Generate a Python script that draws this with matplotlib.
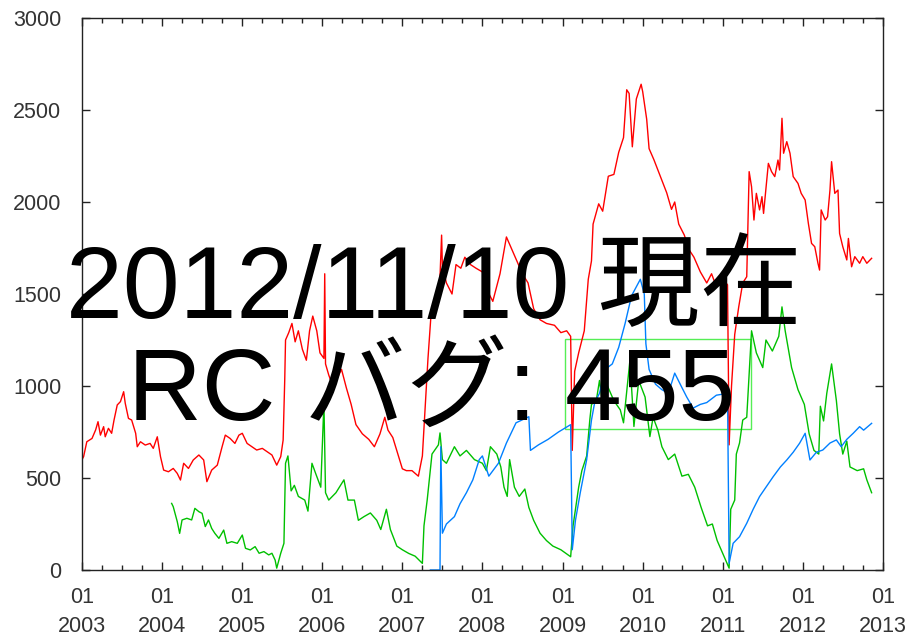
import matplotlib
matplotlib.use("Agg")

import matplotlib.pyplot as plt
import matplotlib.dates as mdates
from matplotlib.patches import Rectangle
from datetime import datetime, timedelta

# values (decimal year, count)
red_x = [2003.00, 2003.02, 2003.06, 2003.125, 2003.17, 2003.20, 2003.23, 2003.27, 2003.29, 2003.33,
         2003.37, 2003.40, 2003.44, 2003.48, 2003.52, 2003.54, 2003.58, 2003.62, 2003.67, 2003.69,
         2003.73, 2003.79, 2003.85, 2003.89, 2003.94, 2003.98, 2004.02, 2004.08, 2004.14, 2004.19,
         2004.23, 2004.27, 2004.33, 2004.39, 2004.46, 2004.52, 2004.56, 2004.62, 2004.69, 2004.75,
         2004.79, 2004.85, 2004.91, 2004.96, 2005.00, 2005.06, 2005.12, 2005.18, 2005.25, 2005.31,
         2005.37, 2005.43, 2005.48, 2005.51, 2005.53, 2005.54, 2005.58, 2005.62, 2005.66, 2005.70,
         2005.75, 2005.80, 2005.84, 2005.88, 2005.93, 2005.97, 2006.02, 2006.03, 2006.04, 2006.08,
         2006.13, 2006.18, 2006.24, 2006.30, 2006.36, 2006.42, 2006.50, 2006.58, 2006.65, 2006.72,
         2006.78, 2006.82, 2006.88, 2006.95, 2007.00, 2007.05, 2007.12, 2007.20, 2007.25, 2007.28,
         2007.32, 2007.36, 2007.40, 2007.46, 2007.49, 2007.50, 2007.55, 2007.62, 2007.67, 2007.73,
         2007.78, 2007.85, 2007.92, 2008.00, 2008.06, 2008.13, 2008.22, 2008.30, 2008.36, 2008.42,
         2008.50, 2008.57, 2008.64, 2008.72, 2008.80, 2008.90, 2008.98, 2009.05, 2009.10, 2009.12,
         2009.15, 2009.20, 2009.27, 2009.32, 2009.36, 2009.38, 2009.45, 2009.50, 2009.57, 2009.64,
         2009.70, 2009.76, 2009.80, 2009.83, 2009.87, 2009.92, 2009.98, 2010.00, 2010.05, 2010.08,
         2010.14, 2010.22, 2010.30, 2010.36, 2010.40, 2010.45, 2010.52, 2010.58, 2010.64, 2010.72,
         2010.80, 2010.86, 2010.92, 2010.98, 2011.06, 2011.08, 2011.11, 2011.15, 2011.20, 2011.25,
         2011.30, 2011.33, 2011.36, 2011.39, 2011.42, 2011.46, 2011.49, 2011.51, 2011.55, 2011.57,
         2011.61, 2011.65, 2011.69, 2011.71, 2011.74, 2011.76, 2011.80, 2011.84, 2011.88, 2011.94,
         2011.98, 2012.03, 2012.07, 2012.11, 2012.15, 2012.19, 2012.21, 2012.23, 2012.28, 2012.31,
         2012.34, 2012.36, 2012.40, 2012.44, 2012.46, 2012.50, 2012.55, 2012.57, 2012.61, 2012.65,
         2012.71, 2012.75, 2012.80, 2012.86]
red_y = [600, 616, 697, 715, 761, 806, 733, 779, 724, 770,
         743, 815, 897, 915, 969, 906, 824, 815, 743, 670,
         697, 679, 688, 661, 724, 616, 543, 534, 552, 525,
         489, 580, 552, 598, 625, 598, 480, 543, 570, 670,
         733, 715, 688, 733, 743, 688, 670, 652, 661, 643,
         625, 570, 616, 706, 1033, 1250, 1290, 1340, 1240, 1300,
         1200, 1140, 1300, 1380, 1300, 1180, 1150, 1610, 1120, 1060,
         1000, 1040, 1090, 990, 900, 790, 740, 710, 670, 740,
         830, 760, 720, 620, 550, 540, 540, 510, 620, 850,
         1150, 1400, 1470, 1480, 1820, 1650, 1560, 1500, 1660, 1640,
         1700, 1660, 1640, 1620, 1520, 1460, 1610, 1810, 1750, 1690,
         1610, 1560, 1420, 1360, 1340, 1330, 1290, 1300, 1270, 650,
         1080, 1180, 1300, 1580, 1680, 1880, 1990, 1950, 2140, 2150,
         2270, 2350, 2610, 2590, 2300, 2560, 2640, 2600, 2450, 2290,
         2230, 2140, 2050, 1960, 2000, 1880, 1820, 1740, 1700, 1620,
         1560, 1610, 1540, 1590, 1550, 680, 1000, 1280, 1430, 1560,
         1594, 2165, 2083, 1902, 2047, 1957, 2029, 1938, 2120, 2210,
         2165, 2138, 2228, 2174, 2455, 2265, 2328, 2265, 2138, 2101,
         2047, 2011, 1884, 1775, 1757, 1667, 1630, 1957, 1902, 1920,
         2065, 2219, 2047, 2065, 1829, 1757, 1685, 1802, 1648, 1703,
         1667, 1703, 1667, 1694]

green_x = [2004.12, 2004.14, 2004.19, 2004.22, 2004.25, 2004.31, 2004.37, 2004.41, 2004.46, 2004.50,
           2004.54, 2004.58, 2004.62, 2004.66, 2004.71, 2004.77, 2004.81, 2004.87, 2004.94, 2005.00,
           2005.04, 2005.10, 2005.16, 2005.21, 2005.27, 2005.33, 2005.37, 2005.41, 2005.43, 2005.48,
           2005.52, 2005.54, 2005.57, 2005.61, 2005.65, 2005.70, 2005.78, 2005.82, 2005.87, 2005.92,
           2005.98, 2006.02, 2006.04, 2006.08, 2006.17, 2006.27, 2006.32, 2006.40, 2006.45, 2006.52,
           2006.60, 2006.68, 2006.73, 2006.80, 2006.85, 2006.93, 2007.00, 2007.08, 2007.16, 2007.25,
           2007.27, 2007.31, 2007.37, 2007.45, 2007.47, 2007.50, 2007.55, 2007.65, 2007.72, 2007.80,
           2007.90, 2008.00, 2008.05, 2008.10, 2008.18, 2008.23, 2008.27, 2008.31, 2008.34, 2008.40,
           2008.46, 2008.53, 2008.58, 2008.64, 2008.72, 2008.80, 2008.88, 2008.98, 2009.10, 2009.13,
           2009.20, 2009.24, 2009.30, 2009.34, 2009.36, 2009.42, 2009.46, 2009.50, 2009.56, 2009.64,
           2009.72, 2009.76, 2009.84, 2009.89, 2009.95, 2010.03, 2010.09, 2010.13, 2010.19, 2010.24,
           2010.32, 2010.40, 2010.49, 2010.57, 2010.65, 2010.73, 2010.81, 2010.87, 2010.93, 2011.02,
           2011.08, 2011.10, 2011.15, 2011.17, 2011.21, 2011.25, 2011.30, 2011.36, 2011.42, 2011.50,
           2011.54, 2011.62, 2011.70, 2011.74, 2011.78, 2011.86, 2011.94, 2012.02, 2012.08, 2012.14,
           2012.20, 2012.22, 2012.26, 2012.30, 2012.36, 2012.42, 2012.46, 2012.50, 2012.55, 2012.59,
           2012.68, 2012.76, 2012.80, 2012.86]
green_y = [362, 344, 263, 199, 272, 281, 272, 335, 317, 308,
           236, 272, 226, 199, 172, 217, 145, 154, 145, 190,
           118, 109, 127, 91, 100, 82, 91, 54, 10, 91,
           145, 580, 620, 430, 460, 400, 380, 320, 580, 520,
           450, 910, 420, 380, 420, 490, 380, 380, 270, 290,
           310, 270, 220, 330, 220, 130, 110, 90, 75, 36,
           240, 380, 630, 680, 745, 600, 580, 670, 620, 650,
           600, 580, 540, 670, 630, 560, 450, 400, 600, 450,
           400, 440, 340, 270, 200, 160, 130, 110, 72, 240,
           450, 540, 620, 820, 900, 920, 1030, 900, 1000, 920,
           870, 800, 1140, 780, 1030, 940, 725, 830, 760, 670,
           600, 630, 510, 520, 450, 340, 240, 250, 160, 70,
           10, 330, 380, 630, 690, 815, 830, 1300, 1180, 1100,
           1250, 1190, 1270, 1430, 1300, 1100, 980, 900, 740, 650,
           630, 890, 810, 960, 1120, 920, 740, 630, 700, 560,
           540, 550, 490, 420]

blue_x = [2007.35, 2007.47, 2007.48, 2007.50, 2007.55, 2007.60, 2007.65, 2007.72, 2007.80, 2007.88,
          2007.96, 2008.00, 2008.08, 2008.20, 2008.30, 2008.42, 2008.58, 2008.60, 2008.70, 2008.82,
          2008.95, 2009.10, 2009.12, 2009.16, 2009.22, 2009.30, 2009.36, 2009.40, 2009.46, 2009.53,
          2009.62, 2009.70, 2009.78, 2009.86, 2009.97, 2010.02, 2010.04, 2010.08, 2010.16, 2010.24,
          2010.32, 2010.40, 2010.48, 2010.55, 2010.63, 2010.72, 2010.80, 2010.92, 2011.06, 2011.08,
          2011.13, 2011.21, 2011.30, 2011.38, 2011.46, 2011.54, 2011.63, 2011.72, 2011.80, 2011.88,
          2011.96, 2012.03, 2012.09, 2012.17, 2012.25, 2012.34, 2012.42, 2012.48, 2012.55, 2012.63,
          2012.71, 2012.76, 2012.86]
blue_y = [0, 0, 670, 200, 250, 270, 290, 360, 420, 490,
          600, 620, 510, 580, 690, 800, 833, 650, 680, 710,
          750, 790, 110, 270, 420, 600, 815, 910, 960, 1090,
          1120, 1210, 1340, 1490, 1580, 1500, 1230, 1090, 1010, 980,
          960, 1070, 1000, 940, 880, 900, 910, 950, 960, 36,
          145, 181, 254, 330, 399, 450, 507, 560, 598, 640,
          689, 743, 598, 640, 652, 690, 707, 670, 710, 743,
          779, 760, 797]

# highlighted box (year range, value range)
box_x = [2009.03, 2011.35]
box_y = [768, 1254]

title_lines = ["2012/11/10 現在", "RC バグ: 455"]


def to_date(y):
    base = datetime(int(y), 1, 1)
    return base + timedelta(days=(y - int(y)) * 365.25)


fig = plt.figure(figsize=(9.09, 6.39), dpi=100)
ax = fig.add_axes([82 / 909, 69 / 639, 801 / 909, 552 / 639])

ax.plot([to_date(v) for v in red_x], red_y, color="#ff0000", lw=1.0)
ax.plot([to_date(v) for v in green_x], green_y, color="#00c000", lw=1.0)
ax.plot([to_date(v) for v in blue_x], blue_y, color="#0080ff", lw=1.0)

d0 = mdates.date2num(to_date(box_x[0]))
d1 = mdates.date2num(to_date(box_x[1]))
ax.add_patch(Rectangle((d0, box_y[0]), d1 - d0, box_y[1] - box_y[0],
                       fill=False, edgecolor="#55ee55", lw=1.0))

ax.set_xlim(datetime(2003, 1, 1), datetime(2013, 1, 1))
ax.set_ylim(0, 3000)
ax.set_yticks([0, 500, 1000, 1500, 2000, 2500, 3000])
ax.xaxis.set_major_locator(mdates.YearLocator())
ax.xaxis.set_minor_locator(mdates.MonthLocator(bymonth=[4, 7, 10]))
ax.xaxis.set_major_formatter(mdates.DateFormatter("%m\n%Y"))

ax.tick_params(which="both", direction="in", top=True, right=True,
               color="#222222", labelsize=15.5, labelcolor="#333333")
ax.tick_params(which="major", length=6, width=1)
ax.tick_params(which="minor", length=3.5, width=1)
ax.tick_params(axis="y", pad=15)
ax.tick_params(axis="x", pad=12)
for lbl in ax.get_xticklabels() + ax.get_yticklabels():
    lbl.set_family("Liberation Sans")
for lbl in ax.get_xticklabels():
    lbl.set_linespacing(1.5)
for s in ax.spines.values():
    s.set_color("#222222")
    s.set_linewidth(1.0)

fam = ["Liberation Sans", "Noto Sans CJK JP"]
fig.text(434 / 909, 1 - 318 / 639, title_lines[0], ha="center", va="baseline",
         fontsize=73.5, family=fam, color="black")
fig.text(432 / 909, 1 - 420 / 639, title_lines[1], ha="center", va="baseline",
         fontsize=73.5, family=fam, color="black")

fig.savefig("out.png", dpi=100)
